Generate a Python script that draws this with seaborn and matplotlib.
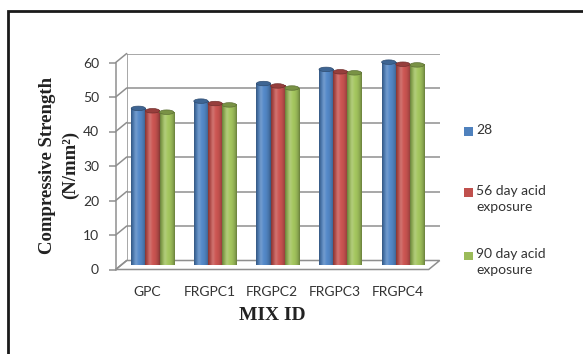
import numpy as np
import pandas as pd
import matplotlib
matplotlib.use("Agg")
import matplotlib.pyplot as plt
from matplotlib.patches import Rectangle, Polygon, Ellipse
from matplotlib.lines import Line2D
from matplotlib.transforms import IdentityTransform
from matplotlib.colors import to_rgb
import seaborn as sns

# ---- data -------------------------------------------------------------
mixes = ["GPC", "FRGPC1", "FRGPC2", "FRGPC3", "FRGPC4"]
series = ["28", "56 day acid exposure", "90 day acid exposure"]
legend_labels = ["28", "56 day acid\nexposure", "90 day acid\nexposure"]
strength_28 = [45.4, 47.5, 52.6, 56.7, 58.8]
strength_56 = [44.7, 46.8, 51.9, 56.0, 58.2]
strength_90 = [44.3, 46.4, 51.3, 55.7, 58.0]
y_ticks = [0, 10, 20, 30, 40, 50, 60]
colors = ["#4F81BD", "#C0504D", "#9BBB59"]

df = pd.DataFrame({
    "mix": mixes * 3,
    "series": np.repeat(series, len(mixes)),
    "strength": strength_28 + strength_56 + strength_90,
})

sns.set_style("white")
plt.rcParams["font.family"] = ["Lato", "DejaVu Sans"]

W, H = 583, 354
fig = plt.figure(figsize=(W / 100, H / 100), dpi=100)


def box(left, bottom, width, height):
    """Pixel box (bottom measured from the top edge) -> figure fraction."""
    return [left / W, 1 - bottom / H, width / W, height / H]


PW, PH = 313, 207            # plot wall size in pixels
DX, DY = 5.5, 4.5            # half of the depth offset

# back wall (gridlines), middle plane (bars), front plane (axis + labels)
ax_back = fig.add_axes(box(121.2 + DX, 265 - DY, PW, PH), zorder=0)
ax = fig.add_axes(box(121.2, 265, PW, PH), zorder=1)
ax_front = fig.add_axes(box(121.2 - DX, 265 + DY, PW, PH), zorder=2)

grid_col = "#8f8f8f"
text_col = "#333333"

for a in (ax_back, ax, ax_front):
    a.set_xlim(-0.5, len(mixes) - 0.5)
    a.set_ylim(0, 60)
    a.patch.set_visible(False)
    for s in a.spines.values():
        s.set_visible(False)

# back wall gridlines
ax_back.set_xticks([])
ax_back.set_yticks([])
for v in y_ticks:
    ax_back.axhline(v, color=grid_col, lw=1.1)
ax_back.axvline(-0.5, color=grid_col, lw=1.1)

# floor and side-wall gridlines
to_px = lambda a, x, y: a.transData.transform((x, y))
x0, x1 = -0.5, len(mixes) - 0.5
floor = [to_px(ax_front, x0, 0), to_px(ax_front, x1, 0),
         to_px(ax_back, x1, 0), to_px(ax_back, x0, 0)]
ax_back.add_artist(Polygon(floor, closed=True, facecolor="white",
                           edgecolor=grid_col, lw=1.1,
                           transform=IdentityTransform(), clip_on=False))
for v in y_ticks:
    pf = to_px(ax_front, x0, v)
    pb = to_px(ax_back, x0, v)
    ax_back.add_artist(Line2D([pf[0], pb[0]], [pf[1], pb[1]], color=grid_col,
                              lw=1.1, transform=IdentityTransform(),
                              clip_on=False))

# bars
sns.barplot(data=df, x="mix", y="strength", hue="series", order=mixes,
            hue_order=series, palette=colors, width=0.68, saturation=1,
            legend=False, ax=ax, edgecolor="none")
ax.set_xticks([])
ax.set_yticks([])
ax.set_xlabel("")
ax.set_ylabel("")

# cylinder shading on each bar
t = np.linspace(0, 1, 64)
shade = 0.66 + 0.40 * np.sin(np.pi * t) ** 0.7
glow = 0.18 * np.exp(-((t - 0.33) / 0.13) ** 2)
for p in list(ax.patches):
    if p.get_height() <= 0:
        continue
    base = np.array(to_rgb(p.get_facecolor()))
    rgb = np.clip(base[None, :] * shade[:, None], 0, 1)
    rgb = rgb + (1 - rgb) * glow[:, None]
    img = rgb[None, :, :]
    bx, bw, bh = p.get_x(), p.get_width(), p.get_height()
    ax.imshow(img, extent=[bx, bx + bw, 0, bh], aspect="auto",
              interpolation="bilinear", zorder=3)
    ax.add_patch(Ellipse((bx + bw / 2, bh), bw, 1.3,
                         facecolor=base * 0.78, edgecolor=base * 0.6,
                         lw=0.5, zorder=4))
ax.set_xlim(-0.5, len(mixes) - 0.5)
ax.set_ylim(0, 60)

# front axis
ax_front.spines["left"].set_visible(True)
ax_front.spines["left"].set_color(grid_col)
ax_front.spines["left"].set_linewidth(1.1)
ax_front.set_yticks(y_ticks)
ax_front.set_xticks(range(len(mixes)))
ax_front.set_xticklabels(mixes)
ax_front.tick_params(axis="y", length=5, width=1.1, color=grid_col, pad=7,
                     labelsize=10, labelcolor=text_col, left=True)
ax_front.tick_params(axis="x", length=0, pad=12, labelsize=10,
                     labelcolor=text_col)
ax_front.set_xlabel("MIX ID", fontsize=14, fontweight="bold",
                    family="Liberation Serif", color="#222222", labelpad=6)

fig.text(59 / W, 1 - 165 / H, "Compressive Strength\n(N/mm²)", rotation=90,
         ha="center", va="center", multialignment="center", fontsize=13.5,
         fontweight="bold", family="Liberation Serif", color="#222222",
         linespacing=1.5)

# legend
legend_y = [131.5, 192.5, 256]
for lab, col, cy in zip(legend_labels, colors, legend_y):
    fig.add_artist(Rectangle((464 / W, 1 - (cy + 4.3) / H), 8.5 / W, 8.5 / H,
                             facecolor=col, edgecolor="none",
                             transform=fig.transFigure))
    fig.text(476.5 / W, 1 - (cy - 8) / H, lab, ha="left", va="top",
             fontsize=10, color=text_col, linespacing=1.45)

# outer frame
fig.add_artist(Rectangle((7.5 / W, -0.1), 1.2, 1.1 - 11 / H, fill=False,
                         edgecolor="#1a1a1a", lw=2,
                         transform=fig.transFigure))

fig.savefig("out.png", dpi=100)
